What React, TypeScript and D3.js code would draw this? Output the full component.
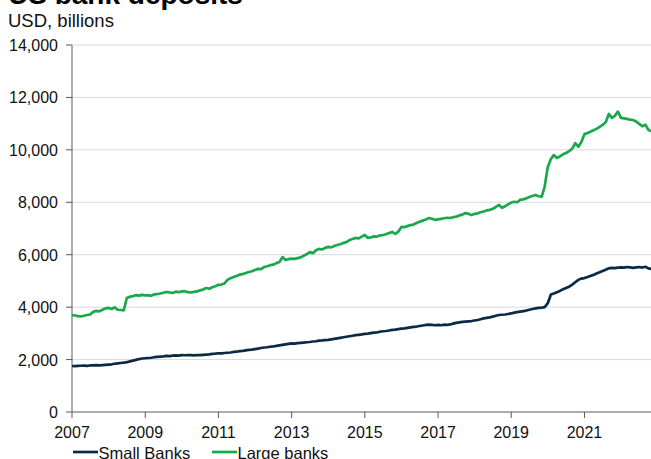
import React from "react";
import * as d3 from "d3";

// Monthly deposits, USD billions, starting January 2007
const startMonth = new Date(2007, 0, 1);

const smallBanks: number[] = [
  // 2007
  1755, 1750, 1760, 1765, 1770, 1760, 1775, 1780, 1785, 1780, 1790, 1800,
  // 2008
  1810, 1820, 1840, 1855, 1870, 1880, 1900, 1930, 1960, 1990, 2020, 2040,
  // 2009
  2050, 2060, 2070, 2090, 2100, 2110, 2120, 2140, 2130, 2150, 2160, 2150,
  // 2010
  2170, 2165, 2175, 2170, 2160, 2175, 2170, 2180, 2190, 2200, 2215, 2225,
  // 2011
  2240, 2235, 2250, 2260, 2270, 2290, 2300, 2320, 2330, 2350, 2370, 2380,
  // 2012
  2400, 2420, 2440, 2460, 2470, 2490, 2500, 2520, 2540, 2560, 2580, 2600,
  // 2013
  2620, 2610, 2630, 2640, 2650, 2660, 2670, 2690, 2700, 2720, 2730, 2745,
  // 2014
  2750, 2770, 2790, 2810, 2830, 2850, 2870, 2890, 2910, 2930, 2945, 2960,
  // 2015
  2980, 2990, 3010, 3030, 3040, 3060, 3080, 3090, 3110, 3130, 3140, 3160,
  // 2016
  3180, 3190, 3210, 3230, 3250, 3260, 3280, 3300, 3320, 3330, 3320, 3310,
  // 2017
  3320, 3310, 3330, 3320, 3340, 3370, 3400, 3420, 3440, 3450, 3460, 3470,
  // 2018
  3490, 3510, 3540, 3570, 3590, 3610, 3640, 3670, 3700, 3710, 3720, 3740,
  // 2019
  3760, 3790, 3810, 3830, 3850, 3870, 3900, 3930, 3950, 3970, 3980, 4000,
  // 2020
  4150, 4480, 4520, 4570, 4620, 4680, 4730, 4780, 4860, 4950, 5040, 5090,
  // 2021
  5110, 5150, 5190, 5230, 5280, 5330, 5380, 5430, 5480, 5500, 5490, 5510,
  // 2022
  5520, 5510, 5530, 5520, 5500, 5520, 5530, 5510, 5540, 5480, 5460,
];

const largeBanks: number[] = [
  // 2007
  3700, 3680, 3660, 3650, 3670, 3700, 3720, 3820, 3860, 3840, 3900, 3950,
  // 2008
  3970, 3930, 3990, 3900, 3890, 3880, 4350, 4400, 4420, 4460, 4440, 4470,
  // 2009
  4450, 4460, 4430, 4490, 4500, 4520, 4550, 4580, 4560, 4540, 4590, 4570,
  // 2010
  4600, 4610, 4570, 4560, 4580, 4600, 4640, 4670, 4730, 4700, 4760, 4800,
  // 2011
  4850, 4860, 4900, 5040, 5100, 5150, 5190, 5240, 5260, 5300, 5340, 5370,
  // 2012
  5420, 5460, 5450, 5530, 5560, 5600, 5620, 5680, 5720, 5910, 5800, 5830,
  // 2013
  5850, 5840, 5870, 5900, 5960, 6020, 6100, 6060, 6170, 6220, 6200, 6260,
  // 2014
  6300, 6280, 6330, 6370, 6400, 6450, 6480, 6560, 6600, 6640, 6620, 6690,
  // 2015
  6750, 6640, 6660, 6700, 6690, 6740, 6750, 6780, 6830, 6870, 6790, 6880,
  // 2016
  7060, 7050, 7090, 7130, 7150, 7210, 7260, 7300, 7340, 7400, 7370, 7330,
  // 2017
  7350, 7370, 7390, 7410, 7400, 7430, 7450, 7500, 7530, 7590, 7560, 7510,
  // 2018
  7560, 7580, 7620, 7650, 7690, 7710, 7750, 7820, 7900, 7790, 7850, 7920,
  // 2019
  7990, 8020, 8000, 8090, 8110, 8150, 8200, 8240, 8280, 8230, 8210, 8600,
  // 2020
  9350, 9650, 9800, 9690, 9750, 9830, 9880, 9950, 10050, 10260, 10120, 10300,
  // 2021
  10600, 10640, 10690, 10750, 10800, 10880, 10950, 11050, 11370, 11220, 11300, 11460,
  // 2022
  11220, 11200, 11180, 11150, 11140, 11080, 10990, 10900, 10960, 10760, 10720,
];

const yTicks = [0, 2000, 4000, 6000, 8000, 10000, 12000, 14000];
const xTickYears = [2007, 2009, 2011, 2013, 2015, 2017, 2019, 2021];

const seriesNames = ["Small Banks", "Large banks"];
const seriesColors = ["#0d2a44", "#19a84b"];

const W = 651;
const H = 459;
const left = 72;
const right = 651;
const top = 45;
const bottom = 412;
const font = "'Liberation Sans', Arial, sans-serif";

export default function App() {
  const months = smallBanks.map((_, i) => d3.timeMonth.offset(startMonth, i));

  const x = d3
    .scaleTime()
    .domain([new Date(2007, 0, 1), new Date(2022, 9, 27)])
    .range([left, right]);
  const y = d3.scaleLinear().domain([0, 14000]).range([bottom, top]);

  const line = d3
    .line<number>()
    .x((_, i) => x(months[i]))
    .y((d) => y(d));

  const series = [smallBanks, largeBanks];
  const fmt = d3.format(",");

  return (
    <svg
      width={W}
      height={H}
      style={{ position: "absolute", left: 0, top: 0, background: "#fff" }}
      fontFamily={font}
    >
      <defs>
        <clipPath id="plot">
          <rect x={left} y={0} width={right - left + 2} height={bottom} />
        </clipPath>
      </defs>

      <text x={8} y={4} fontSize={28} fontWeight="bold" fill="#000">
        US bank deposits
      </text>
      <text x={8} y={26.5} fontSize={18.5} fill="#111">
        USD, billions
      </text>

      {/* gridlines */}
      {yTicks
        .filter((t) => t > 0)
        .map((t) => (
          <line
            key={"g" + t}
            x1={left}
            x2={right}
            y1={y(t)}
            y2={y(t)}
            stroke="#d9d9d9"
            strokeWidth={1}
          />
        ))}

      {/* y axis */}
      <line x1={left} x2={left} y1={top} y2={bottom} stroke="#595959" strokeWidth={1} />
      {yTicks.map((t) => (
        <g key={"y" + t}>
          <line x1={left - 6} x2={left} y1={y(t)} y2={y(t)} stroke="#595959" />
          <text
            x={58}
            y={y(t) + 6}
            textAnchor="end"
            fontSize={16}
            fill="#111"
          >
            {fmt(t)}
          </text>
        </g>
      ))}

      {/* x axis */}
      <line x1={left} x2={right} y1={bottom} y2={bottom} stroke="#595959" strokeWidth={1} />
      {xTickYears.map((yr) => {
        const px = x(new Date(yr, 0, 1));
        return (
          <g key={"x" + yr}>
            <line x1={px} x2={px} y1={bottom} y2={bottom + 6} stroke="#595959" />
            <text x={px} y={438} textAnchor="middle" fontSize={16} fill="#111">
              {yr}
            </text>
          </g>
        );
      })}

      {/* series */}
      <g clipPath="url(#plot)">
        {series.map((s, i) => (
          <path
            key={seriesNames[i]}
            d={line(s) || ""}
            fill="none"
            stroke={seriesColors[i]}
            strokeWidth={2.7}
            strokeLinejoin="round"
          />
        ))}
      </g>

      {/* legend */}
      {seriesNames.map((name, i) => {
        const lx = i === 0 ? 73 : 212;
        return (
          <g key={"l" + name}>
            <line
              x1={lx}
              x2={lx + 25}
              y1={452}
              y2={452}
              stroke={seriesColors[i]}
              strokeWidth={2.7}
            />
            <text x={lx + 25.5} y={459} fontSize={16.5} fill="#111">
              {name}
            </text>
          </g>
        );
      })}
    </svg>
  );
}
